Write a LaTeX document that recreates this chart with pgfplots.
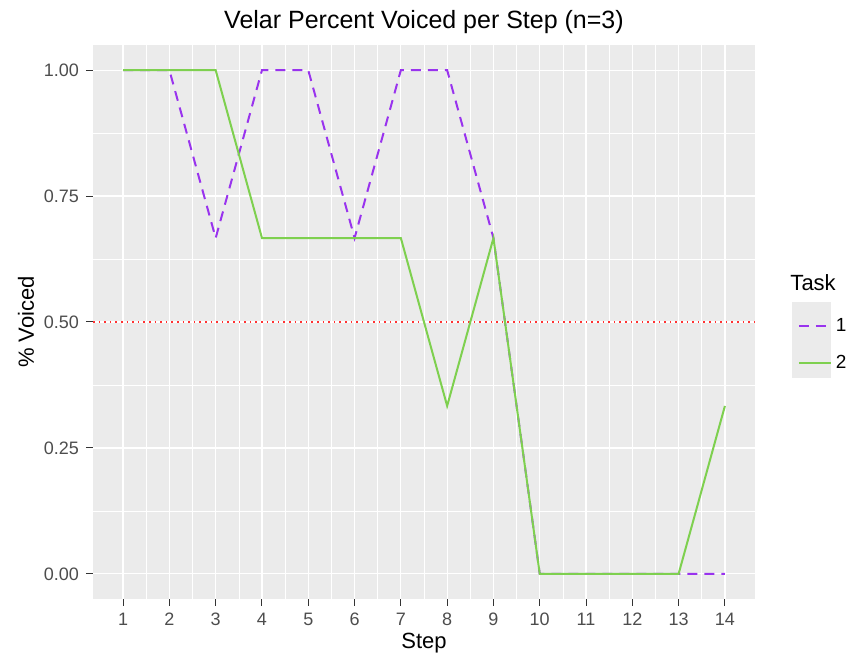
\documentclass[border=0pt]{standalone}
\usepackage{pgfplots}
\pgfplotsset{compat=1.18}
\usepackage{fontspec}
\setmainfont{Liberation Sans}
\definecolor{panelbg}{HTML}{EBEBEB}
\definecolor{taskone}{HTML}{9933EE}
\definecolor{tasktwo}{HTML}{7ED04F}
\definecolor{ticktext}{HTML}{4D4D4D}
\definecolor{tickmark}{HTML}{333333}

\pgfplotstableread{
step voiced
1  1
2  1
3  0.6667
4  1
5  1
6  0.6667
7  1
8  1
9  0.6667
10 0
11 0
12 0
13 0
14 0
}\taskone

\pgfplotstableread{
step voiced
1  1
2  1
3  1
4  0.6667
5  0.6667
6  0.6667
7  0.6667
8  0.3333
9  0.6667
10 0
11 0
12 0
13 0
14 0.3333
}\tasktwo

\begin{document}
\begin{tikzpicture}
\useasboundingbox (0,0) rectangle (428pt,328.5pt);
\begin{axis}[
    at={(46.5pt,29pt)}, anchor=south west,
    scale only axis,
    width=331pt, height=277pt,
    xmin=0.35, xmax=14.65,
    ymin=-0.05, ymax=1.05,
    xtick={1,...,14},
    ytick={0,0.25,0.5,0.75,1},
    minor xtick={1.5,2.5,...,13.5},
    minor ytick={0.125,0.375,0.625,0.875},
    xtick pos=bottom, ytick pos=left,
    yticklabel style={/pgf/number format/.cd, fixed, fixed zerofill, precision=2},
    /pgf/number format/assume math mode=true,
    axis background/.style={fill=panelbg},
    axis line style={draw=none},
    grid=both,
    major grid style={white, line width=0.6pt},
    minor grid style={white, line width=0.3pt},
    tick align=outside,
    major tick length=3.5pt,
    minor tick length=0pt,
    tick style={tickmark, line width=0.5pt},
    ticklabel style={font=\fontsize{9}{10}\selectfont, text=ticktext},
    title={Velar Percent Voiced per Step (n=3)},
    title style={font=\fontsize{12.5}{14}\selectfont, yshift=-4pt},
    xlabel={Step},
    ylabel={\% Voiced},
    label style={font=\fontsize{11}{12}\selectfont},
    xlabel style={yshift=3pt},
    ylabel style={yshift=-2pt},
    clip=false,
    legend cell align=left,
    legend style={at={(rel axis cs:1.064,0.515)}, anchor=north west,
        draw=none, fill=none, font=\fontsize{9.5}{10}\selectfont,
        row sep=6.5pt, inner sep=0pt},
    legend image code/.code={\draw[#1] (0pt,0pt) -- (16pt,0pt);},
]
\fill[panelbg] (rel axis cs:1.056,0.536) rectangle (rel axis cs:1.115,0.399);
\node[anchor=south west, font=\fontsize{11}{12}\selectfont, inner sep=0pt]
    at (rel axis cs:1.053,0.555) {Task};
\addplot[red!80, dotted, line width=0.8pt, forget plot] coordinates {(0.35,0.5) (14.65,0.5)};
\addplot[taskone, line width=1pt, dash pattern=on 5pt off 3.5pt] table[x=step, y=voiced]{\taskone};
\addlegendentry{1}
\addplot[tasktwo, line width=1pt] table[x=step, y=voiced]{\tasktwo};
\addlegendentry{2}
\end{axis}
\end{tikzpicture}
\end{document}
